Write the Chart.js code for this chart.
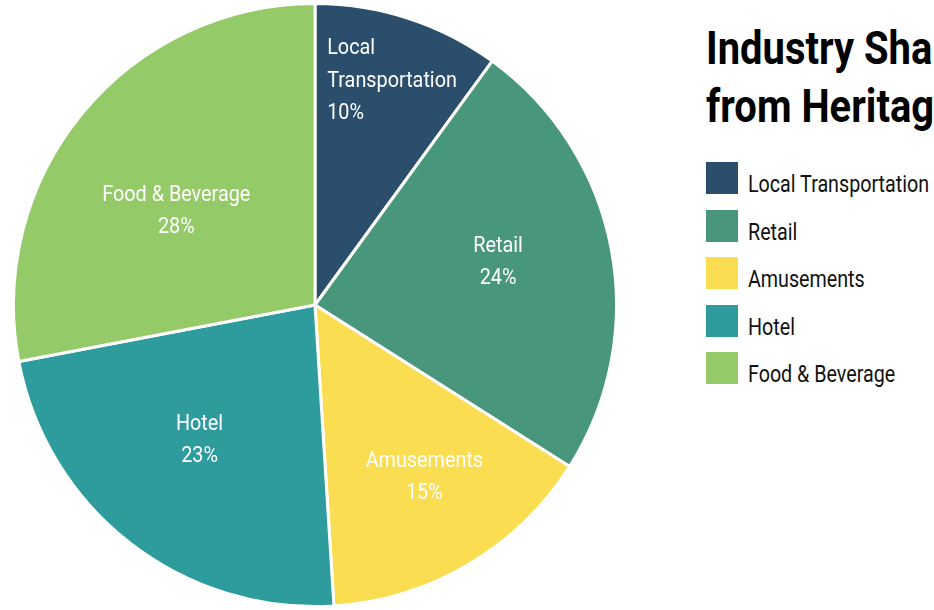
<!DOCTYPE html>
<html>
<head>
<meta charset="utf-8">
<script src="https://cdn.jsdelivr.net/npm/chart.js@4/dist/chart.umd.min.js"></script>
<style>
  body { margin: 0; background: #fff; overflow: hidden; }
  #wrap { position: relative; width: 934px; height: 610px; overflow: hidden; }
  #pieBox { position: absolute; left: 12px; top: 2px; width: 606px; height: 606px; }
  #title { position: absolute; left: 706px; top: 19px; white-space: nowrap;
    font-family: Roboto, sans-serif; font-weight: bold; font-size: 47px; line-height: 58px; color: #000;
    transform: scaleX(0.85); transform-origin: left top; }
  #legend { position: absolute; left: 706px; top: 162px; }
  .item { height: 47.5px; display: flex; align-items: flex-start; }
  .sw { width: 32px; height: 32px; flex: none; }
  .lbl { margin-left: 10px; margin-top: 8px; font-family: Roboto, sans-serif;
    font-size: 24px; color: #111; white-space: nowrap; transform: scaleX(0.82); transform-origin: left top; }
</style>
</head>
<body>
<div id="wrap">
  <div id="pieBox"><canvas id="myChart"></canvas></div>
  <div id="title">Industry Share of Spending<br>from Heritage Tourism</div>
  <div id="legend"></div>
</div>
<script>
const categories = ["Local Transportation", "Retail", "Amusements", "Hotel", "Food & Beverage"];
const shares = [10, 24, 15, 23, 28];
const sliceColors = ["#2a4e6c", "#48967c", "#fbdd51", "#2e9b9d", "#95ca68"];
// slice labels split over lines
const sliceLabels = [["Local", "Transportation"], ["Retail"], ["Amusements"], ["Hotel"], ["Food & Beverage"]];

const labelFont = '22px Roboto, sans-serif';
const squeeze = 0.9;
// radius fraction and angle nudge (deg) for each slice label
const labelPos = [
  {frac: 0.785, turn: 1, align: "left"},
  {frac: 0.623, turn: -2.2},
  {frac: 0.677, turn: -1.8},
  {frac: 0.591, turn: 2.6},
  {frac: 0.555, turn: -5.6}
];

const sliceText = {
  id: "sliceText",
  afterDatasetsDraw(chart) {
    const ctx = chart.ctx;
    const arcs = chart.getDatasetMeta(0).data;
    ctx.save();
    ctx.font = labelFont;
    ctx.fillStyle = "#fff";
    ctx.textBaseline = "middle";
    arcs.forEach((arc, i) => {
      const p = arc.getProps(["x", "y", "startAngle", "endAngle", "outerRadius"], true);
      const mid = (p.startAngle + p.endAngle) / 2 + labelPos[i].turn * Math.PI / 180;
      const r = p.outerRadius * labelPos[i].frac;
      const cx = p.x + Math.cos(mid) * r;
      const cy = p.y + Math.sin(mid) * r;
      const lines = sliceLabels[i].concat([shares[i] + "%"]);
      const lh = 32.5;
      const top = cy - (lines.length - 1) * lh / 2;
      let x = cx;
      if (labelPos[i].align === "left") {
        const w = Math.max(...lines.map(l => ctx.measureText(l).width)) * squeeze;
        x = cx - w / 2;
        ctx.textAlign = "left";
      } else {
        ctx.textAlign = "center";
      }
      lines.forEach((l, k) => {
        ctx.save();
        ctx.translate(x, top + k * lh);
        ctx.scale(squeeze, 1);
        ctx.fillText(l, 0, 0);
        ctx.restore();
      });
    });
    ctx.restore();
  }
};

new Chart("myChart", {
  type: "pie",
  data: {
    labels: categories,
    datasets: [{
      data: shares,
      backgroundColor: sliceColors,
      borderColor: "#fff",
      borderWidth: 3
    }]
  },
  options: {
    responsive: true,
    maintainAspectRatio: false,
    animation: false,
    layout: {padding: 0},
    plugins: {
      legend: {display: false},
      tooltip: {enabled: false}
    }
  },
  plugins: [sliceText]
});

const legend = document.getElementById("legend");
categories.forEach((c, i) => {
  const row = document.createElement("div");
  row.className = "item";
  row.innerHTML = '<div class="sw" style="background:' + sliceColors[i] + '"></div><div class="lbl">' + c + '</div>';
  legend.appendChild(row);
});
</script>
</body>
</html>
